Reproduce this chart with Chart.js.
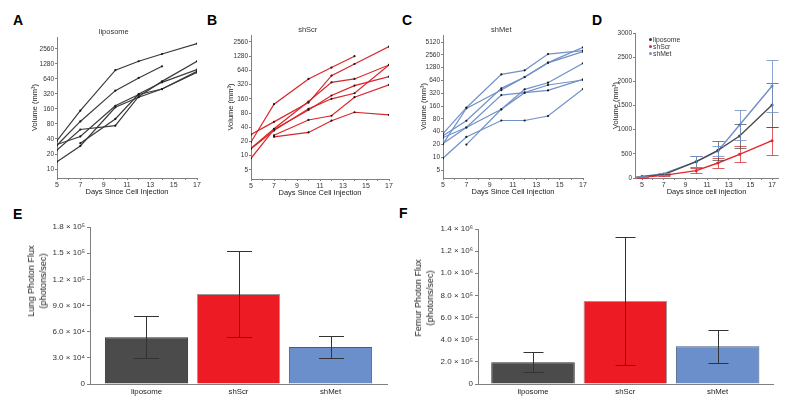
<!DOCTYPE html>
<html>
<head>
<meta charset="utf-8">
<script src="https://cdn.jsdelivr.net/npm/chart.js@4.4.1/dist/chart.umd.min.js"></script>
<style>
  body { margin: 0; background: #fff; width: 795px; height: 405px; overflow: hidden; position: relative; font-family: "Liberation Sans", Arial, sans-serif; }
  canvas { position: absolute; }
  .letter { position: absolute; font-weight: bold; font-size: 14px; line-height: 14px; color: #000; }
  .ytitle { position: absolute; transform: translate(-50%, -50%) rotate(-90deg); white-space: nowrap; text-align: center; font-size: 9.1px; line-height: 12px; color: #1a1a1a; }
  .leg { position: absolute; left: 649px; font-size: 6.8px; line-height: 7px; color: #333; white-space: nowrap; }
  .leg i { display: inline-block; width: 3px; height: 3px; border-radius: 50%; margin-right: 1px; vertical-align: 1px; }
</style>
</head>
<body>
<div class="letter" style="left:13px;top:13px">A</div>
<div class="letter" style="left:207px;top:13px">B</div>
<div class="letter" style="left:402px;top:13px">C</div>
<div class="letter" style="left:592px;top:13px">D</div>
<div class="letter" style="left:13px;top:207px">E</div>
<div class="letter" style="left:399px;top:206px">F</div>

<canvas id="chartA" width="210" height="185" style="left:0;top:20px"></canvas>
<canvas id="chartB" width="200" height="185" style="left:200px;top:20px"></canvas>
<canvas id="chartC" width="200" height="185" style="left:395px;top:20px"></canvas>
<canvas id="chartD" width="205" height="185" style="left:590px;top:20px"></canvas>
<canvas id="chartE" width="400" height="195" style="left:0;top:210px"></canvas>
<canvas id="chartF" width="395" height="195" style="left:400px;top:210px"></canvas>

<div class="leg" style="top:36px"><i style="background:#3a3a3a"></i>liposome</div>
<div class="leg" style="top:43px"><i style="background:#e3262d"></i>shScr</div>
<div class="leg" style="top:50px"><i style="background:#6f8fc6"></i>shMet</div>

<div class="ytitle" style="left:37px;top:281px">Lung Photon Flux<br>(photons/sec)</div>
<div class="ytitle" style="left:424px;top:298px">Femur Photon Flux<br>(photons/sec)</div>

<script>
// measurement days
const days = [5, 7, 10, 12, 14, 17];
const dayLabels = [5, 7, 9, 11, 13, 15, 17];

// individual tumour volumes (mm3), one row per mouse
const liposomeMice = [
  [37, 148, 960, 1450, 2030, 3280],
  [30, 90, 373, 671, 1150, null],
  [24, 62, 74, 286, 573, 1450],
  [31, 45, 186, 312, 402, 913],
  [14, 29, 173, 275, 402, 868],
  [null, 33, 101, 320, 548, 985],
];
const shScrMice = [
  [19.4, 123, 422, 736, 1280, null],
  [28, 52, 133, 495, 875, 2040],
  [14.3, 37, 140, 358, 422, 835],
  [8.8, 36, 93, 188, 305, 472],
  [14, 34, 98, 160, 210, 835],
  [null, 27, 57, 70, 173, 316],
  [null, 25, 31, 55, 83, 73],
];
const shMetMice = [
  [36, 146, 885, 1105, 2670, 3200],
  [20.6, 141, 380, 770, 1680, 3820],
  [32, 72, 416, 765, 1650, 3030],
  [29, 50, 290, 330, 372, 676],
  [21, 50, 134, 395, 565, 1610],
  [9.5, 30, 73, 73, 93, 400],
  [null, 19.8, 134, 330, 500, 655],
];
const ticksA = [10, 20, 40, 80, 160, 320, 640, 1280, 2560];
const ticksB = [5, 10, 20, 40, 80, 160, 320, 640, 1280, 2560];
const ticksC = [5, 10, 20, 40, 80, 160, 320, 640, 1280, 2560, 5120];

// group means (D)
const meanLiposome = [28, 70, 338, 572, 869, 1510];
const errLiposome = [5, 15, 120, 190, 250, 460];
const meanShScr = [14, 55, 152, 310, 490, 772];
const errShScr = [5, 12, 50, 100, 165, 290];
const meanShMet = [34, 90, 338, 558, 1097, 1903];
const errShMet = [8, 20, 110, 110, 320, 530];

// photon flux (E, F)
const groups = ['liposome', 'shScr', 'shMet'];
const lungFlux = [53700, 103200, 42300];
const lungErr = [23800, 49300, 12300];
const lungTicks = [0, 30000, 60000, 90000, 120000, 150000, 180000];
const lungTickLabels = ['0', '3.0 × 10⁴', '6.0 × 10⁴', '9.0 × 10⁴', '1.2 × 10⁵', '1.5 × 10⁵', '1.8 × 10⁵'];
const femurFlux = [195800, 750000, 340000];
const femurErr = [90000, 577000, 148000];
const femurTicks = [0, 200000, 400000, 600000, 800000, 1000000, 1200000, 1400000];
const femurTickLabels = ['0', '2.0 × 10⁵', '4.0 × 10⁵', '6.0 × 10⁵', '8.0 × 10⁵', '1.0 × 10⁶', '1.2 × 10⁶', '1.4 × 10⁶'];

Chart.defaults.font.family = '"Liberation Sans", Arial, sans-serif';
Chart.defaults.color = '#333';
Chart.defaults.animation = false;

const axisGrey = '#808080';

const errorBars = {
  id: 'errorBars',
  afterDatasetsDraw(chart) {
    const ctx = chart.ctx;
    const y = chart.scales.y;
    chart.data.datasets.forEach((ds, i) => {
      if (!ds.errors) return;
      const meta = chart.getDatasetMeta(i);
      ctx.save();
      ctx.lineWidth = 1;
      meta.data.forEach((el, j) => {
        const v = ds.data[j].y;
        const e = ds.errors[j];
        const hi = Math.round(y.getPixelForValue(v + e)) + 0.5;
        const lo = Math.round(y.getPixelForValue(v - e)) + 0.5;
        const x = Math.round(el.x) + 0.5;
        const w = ds.capWidth / 2;
        ctx.strokeStyle = ds.errorColor;
        ctx.beginPath();
        ctx.moveTo(x, hi); ctx.lineTo(x, lo);
        ctx.moveTo(x - w, hi); ctx.lineTo(x + w, hi);
        ctx.moveTo(x - w, lo); ctx.lineTo(x + w, lo);
        ctx.stroke();
      });
      ctx.restore();
    });
  }
};

function toPoints(xs, ys) {
  return xs.map((x, i) => ({ x: x, y: ys[i] }));
}

// box = canvas position on page, plot = wanted chart area on page
function volumeChart(id, box, plot, titleX, title, mice, color, ticks, min, max) {
  const titleH = 7.5 * 1.2 + 1;
  const padL = titleX - box.l - 4.5;
  const xH = 18;
  new Chart(document.getElementById(id), {
    type: 'line',
    data: {
      datasets: mice.map(m => ({
        data: toPoints(days, m),
        borderColor: color,
        borderWidth: 1.2,
        pointRadius: 1.1,
        pointBorderWidth: 0,
        pointBackgroundColor: '#1a1a1a',
        spanGaps: false
      }))
    },
    options: {
      responsive: false,
      layout: { padding: { left: padL, top: plot.t - box.t - titleH, right: box.l + box.w - plot.r, bottom: box.t + box.h - plot.b - xH } },
      plugins: {
        legend: { display: false },
        tooltip: { enabled: false },
        title: { display: true, text: title, color: '#333', font: { size: 7.5, weight: 'normal' }, padding: { top: 0, bottom: 1 } }
      },
      scales: {
        x: {
          type: 'linear', min: 5, max: 17,
          afterFit: s => { s.height = xH; },
          ticks: { stepSize: 1, autoSkip: false, maxRotation: 0, padding: 1, font: { size: 7 }, callback: v => dayLabels.includes(v) ? String(v) : '' },
          grid: { drawOnChartArea: false, tickLength: 2, color: axisGrey },
          border: { color: axisGrey },
          title: { display: true, text: 'Days Since Cell Injection', font: { size: 7.5 }, padding: 0, color: '#222' }
        },
        y: {
          type: 'logarithmic', min: min, max: max,
          afterFit: s => { s.width = plot.l - box.l - padL; },
          afterBuildTicks: s => { s.ticks = ticks.map(v => ({ value: v })); },
          ticks: { autoSkip: false, padding: 1, font: { size: 6.5 }, callback: v => String(v) },
          grid: { drawOnChartArea: false, tickLength: 2, color: axisGrey },
          border: { color: axisGrey },
          title: { display: true, text: 'Volume (mm³)', font: { size: 7.5 }, padding: 0, color: '#222' }
        }
      }
    }
  });
}

volumeChart('chartA', { l: 0, t: 20, w: 210, h: 185 }, { l: 57, t: 37, r: 197, b: 178 }, 35, 'liposome', liposomeMice, '#3a3a3a', ticksA, 6.6, 4450);
volumeChart('chartB', { l: 200, t: 20, w: 200, h: 185 }, { l: 251, t: 35, r: 389, b: 179 }, 231, 'shScr', shScrMice, '#d9262b', ticksB, 3.2, 3600);
volumeChart('chartC', { l: 395, t: 20, w: 200, h: 185 }, { l: 443, t: 35, r: 583, b: 178 }, 424, 'shMet', shMetMice, '#7090c8', ticksC, 3.25, 7480);

// D: group means with error bars
(function () {
  const box = { l: 590, t: 20, w: 205, h: 185 };
  const plot = { l: 635, t: 33, r: 778, b: 178 };
  const padL = 616 - box.l - 4.5;
  const xH = 18;
  const series = [
    { m: meanShScr, e: errShScr, c: '#e3262d', ec: 'rgba(214,40,45,0.75)' },
    { m: meanLiposome, e: errLiposome, c: '#4a4a4a', ec: 'rgba(70,70,70,0.7)' },
    { m: meanShMet, e: errShMet, c: '#6f8fc6', ec: 'rgba(111,143,198,0.8)' }
  ];
  new Chart(document.getElementById('chartD'), {
    type: 'line',
    data: {
      datasets: series.map(s => ({
        data: toPoints(days, s.m),
        borderColor: s.c,
        backgroundColor: s.c,
        borderWidth: 1.4,
        pointRadius: 1.5,
        pointBorderWidth: 0,
        errors: s.e,
        errorColor: s.ec,
        capWidth: 12
      }))
    },
    options: {
      responsive: false,
      layout: { padding: { left: padL, top: plot.t - box.t, right: box.l + box.w - plot.r, bottom: box.t + box.h - plot.b - xH } },
      plugins: { legend: { display: false }, tooltip: { enabled: false } },
      scales: {
        x: {
          type: 'linear', min: 4.35, max: 17.55,
          afterFit: s => { s.height = xH; },
          ticks: { stepSize: 1, includeBounds: false, autoSkip: false, maxRotation: 0, padding: 1, font: { size: 7 }, callback: v => dayLabels.includes(v) ? String(v) : '' },
          grid: { drawOnChartArea: false, tickLength: 2, color: axisGrey },
          border: { color: axisGrey },
          title: { display: true, text: 'Days since cell injection', font: { size: 7.5 }, padding: 0, color: '#222' }
        },
        y: {
          min: 0, max: 3000,
          afterFit: s => { s.width = plot.l - box.l - padL; },
          ticks: { stepSize: 500, autoSkip: false, padding: 1, font: { size: 6.5 }, callback: v => String(v) },
          grid: { drawOnChartArea: false, tickLength: 2, color: axisGrey },
          border: { color: axisGrey },
          title: { display: true, text: 'Volume (mm³)', font: { size: 7.5 }, padding: 0, color: '#222' }
        }
      }
    },
    plugins: [errorBars]
  });
})();

function fluxChart(id, box, plot, flux, err, xMin, xMax, ticks, tickLabels, yMax, capWidth) {
  const yW = 50;
  const xH = 16;
  new Chart(document.getElementById(id), {
    type: 'bar',
    data: {
      datasets: [{
        data: toPoints(groups.map((g, i) => i), flux),
        backgroundColor: ['#4b4b4b', '#ed1c24', '#6b8fca'],
        borderColor: ['#2e2e2e', '#9a9a9a', '#4a5a7e'],
        borderWidth: 1,
        categoryPercentage: 1,
        barPercentage: 0.905,
        errors: err,
        errorColor: '#333',
        capWidth: capWidth
      }]
    },
    options: {
      responsive: false,
      layout: { padding: { left: plot.l - box.l - yW, top: plot.t - box.t, right: box.l + box.w - plot.r, bottom: box.t + box.h - plot.b - xH } },
      plugins: { legend: { display: false }, tooltip: { enabled: false } },
      scales: {
        x: {
          type: 'linear', min: xMin, max: xMax, offset: false,
          afterFit: s => { s.height = xH; },
          afterBuildTicks: s => { s.ticks = groups.map((g, i) => ({ value: i })); },
          ticks: { autoSkip: false, maxRotation: 0, padding: 3, font: { size: 7.8 }, color: '#222', callback: v => groups[v] || '' },
          grid: { display: false, drawTicks: false, tickLength: 0, offset: false },
          border: { color: axisGrey }
        },
        y: {
          min: 0, max: yMax,
          afterFit: s => { s.width = yW; },
          afterBuildTicks: s => { s.ticks = ticks.map(v => ({ value: v })); },
          ticks: { autoSkip: false, padding: 2, font: { size: 8 }, color: '#333', callback: (v, i) => tickLabels[i] },
          grid: { drawOnChartArea: false, tickLength: 3, color: axisGrey },
          border: { color: axisGrey }
        }
      }
    },
    plugins: [errorBars]
  });
}

fluxChart('chartE', { l: 0, t: 210, w: 400, h: 195 }, { l: 90, t: 227, r: 387, b: 384 }, lungFlux, lungErr, -0.614, 2.614, lungTicks, lungTickLabels, 180000, 25);
fluxChart('chartF', { l: 400, t: 210, w: 395, h: 195 }, { l: 478, t: 229, r: 773, b: 384 }, femurFlux, femurErr, -0.596, 2.60, femurTicks, femurTickLabels, 1400000, 20);
</script>
</body>
</html>
